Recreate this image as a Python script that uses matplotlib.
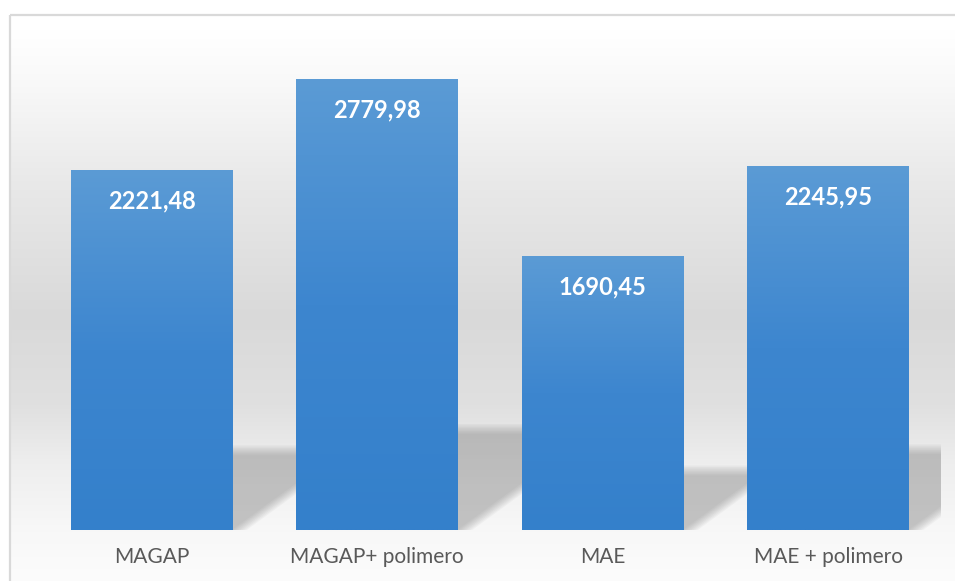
import numpy as np
import matplotlib
matplotlib.use("Agg")
import matplotlib.pyplot as plt
from matplotlib.colors import LinearSegmentedColormap
from matplotlib.patches import Polygon, Rectangle

categories = ["MAGAP", "MAGAP+ polimero", "MAE", "MAE + polimero"]
values = [2221.48, 2779.98, 1690.45, 2245.95]
value_labels = ["2221,48", "2779,98", "1690,45", "2245,95"]

W, H = 955, 581
fig = plt.figure(figsize=(W / 100, H / 100), dpi=100)

# ---- background (chart area gradient + border) ----
bg = fig.add_axes([0, 0, 1, 1], zorder=0)
bg.set_xlim(0, W)
bg.set_ylim(H, 0)
bg.axis("off")
stops_y = [0, 15, 60, 170, 310, 400, 460, 530, 581]
stops_v = [255, 255, 250, 233, 217, 224, 238, 248, 252]
ys = np.arange(H)
col = np.interp(ys, stops_y, stops_v) / 255.0
img = np.repeat(col[:, None], 2, axis=1)
img_rgb = np.dstack([img, img, img])
bg.imshow(img_rgb, extent=(10, W + 5, H, 15), aspect="auto", interpolation="bilinear", zorder=0)
bg.add_patch(Rectangle((9.5, 14.5), W + 20, H + 20, fill=False, edgecolor="#d9d9d9", linewidth=1.6, zorder=1))

# ---- main axes ----
left_px, right_px = 38.75, 940.75
base_px, top_px = 530, 43.4
ax = fig.add_axes([left_px / W, (H - base_px) / H, (right_px - left_px) / W, (base_px - top_px) / H], zorder=1)
ax.set_facecolor("none")
ax.set_xlim(-0.5, len(categories) - 0.5)
ax.set_ylim(0, 3000)
for s in ax.spines.values():
    s.set_visible(False)
ax.set_yticks([])

x = np.arange(len(categories))
bars = ax.bar(x, values, width=0.714, color="none", edgecolor="none", zorder=3)

# units conversion (data per pixel)
px_x = (len(categories)) / (right_px - left_px)
px_y = 3000 / (base_px - top_px)

# shadows
slope = 0.73
for b in bars:
    x0 = b.get_x()
    x1 = x0 + b.get_width()
    h = b.get_height()
    sh_px = 0.235 * h / px_y
    n = 8
    for k in range(n):
        shrink = k * 1.4
        top = (sh_px - shrink) * px_y
        xs = x1 + shrink * 1.5 * px_x
        reach = (sh_px - shrink) / slope
        poly = Polygon([(x0, 0), (xs, 0), (xs + reach * px_x, top), (x0, top)],
                       closed=True, facecolor="#6e6e6e", edgecolor="none",
                       alpha=0.055, zorder=2)
        ax.add_patch(poly)

# bar gradients
cmap = LinearSegmentedColormap.from_list("bargrad", ["#3480cb", "#3d86cf", "#5b9bd5"])
grad = np.linspace(0, 1, 256)[:, None]
for b in bars:
    x0 = b.get_x()
    w = b.get_width()
    h = b.get_height()
    im = ax.imshow(grad, cmap=cmap, extent=(x0, x0 + w, 0, h), origin="lower",
                   aspect="auto", interpolation="bilinear", zorder=3)
    rect = Rectangle((x0, 0), w, h, transform=ax.transData, facecolor="none", edgecolor="none")
    ax.add_patch(rect)
    im.set_clip_path(rect)
ax.set_xlim(-0.5, len(categories) - 0.5)
ax.set_ylim(0, 3000)

for b, lab in zip(bars, value_labels):
    ax.annotate(lab, (b.get_x() + b.get_width() / 2, b.get_height()),
                xytext=(0, -31), textcoords="offset pixels",
                ha="center", va="center", color="white", fontsize=17,
                fontweight="bold", family="Lato", zorder=5)

ax.set_xticks(x)
ax.set_xticklabels(categories, fontsize=15, color="#595959", family="Lato")
ax.tick_params(axis="x", length=0, pad=12)

fig.savefig("out.png", dpi=100)
